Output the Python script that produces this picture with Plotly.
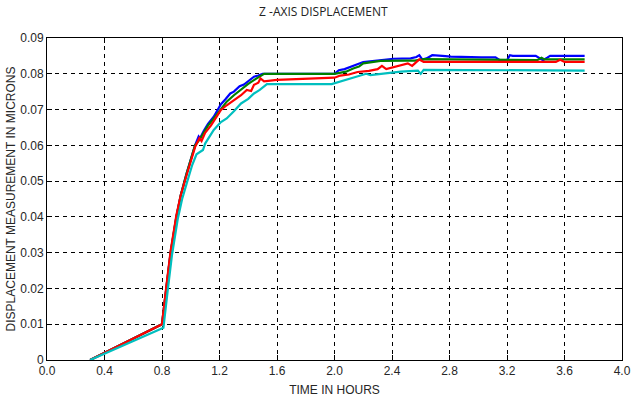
import plotly.graph_objects as go

# ---- data (time in hours, displacement in microns) ----
t_blue = [0.30, 0.80, 0.83, 0.86, 0.90, 0.93, 0.97, 1.00, 1.03, 1.055,
          1.065, 1.09, 1.12, 1.16, 1.18, 1.21, 1.24, 1.275, 1.30, 1.34,
          1.37, 1.40, 1.44, 1.47, 1.50, 2.00, 2.03, 2.07, 2.11, 2.15,
          2.20, 2.26, 2.34, 2.41, 2.53, 2.57, 2.59, 2.61, 2.64, 2.68,
          2.75, 2.81, 3.02, 3.12, 3.15, 3.20, 3.22, 3.24, 3.40, 3.43,
          3.45, 3.48, 3.50, 3.74]
y_blue = [0.0, 0.0100, 0.0200, 0.0300, 0.0400, 0.0460, 0.0520, 0.0560, 0.0600, 0.0625,
          0.0620, 0.0640, 0.0660, 0.0680, 0.0695, 0.0715, 0.0728, 0.0745, 0.0750, 0.0765,
          0.0770, 0.0780, 0.0792, 0.0795, 0.0800, 0.0800, 0.0810, 0.0813, 0.0820, 0.0825,
          0.0833, 0.0835, 0.0839, 0.0842, 0.0843, 0.0847, 0.0852, 0.0840, 0.0843, 0.0852,
          0.0850, 0.0848, 0.0846, 0.0846, 0.0838, 0.0838, 0.0852, 0.0850, 0.0850, 0.0842,
          0.0838, 0.0845, 0.0850, 0.0850]

t_green = [0.30, 0.80, 0.83, 0.86, 0.90, 0.93, 0.97, 1.00, 1.03, 1.06,
           1.09, 1.12, 1.16, 1.21, 1.25, 1.30, 1.35, 1.40, 1.45, 1.51,
           2.00, 2.04, 2.08, 2.13, 2.17, 2.20, 2.26, 2.32, 2.50, 2.56,
           2.62, 3.00, 3.12, 3.41, 3.44, 3.46, 3.74]
y_green = [0.0, 0.0100, 0.0200, 0.0300, 0.0400, 0.0460, 0.0520, 0.0560, 0.0600, 0.0615,
           0.0635, 0.0655, 0.0675, 0.0700, 0.0722, 0.0740, 0.0757, 0.0772, 0.0785, 0.0800,
           0.0800, 0.0803, 0.0806, 0.0815, 0.0820, 0.0829, 0.0832, 0.0836, 0.0837, 0.0837,
           0.0841, 0.0840, 0.0838, 0.0838, 0.0845, 0.0840, 0.0840]

t_red = [0.30, 0.80, 0.83, 0.86, 0.90, 0.93, 0.97, 1.00, 1.03, 1.06,
         1.075, 1.10, 1.14, 1.18, 1.21, 1.25, 1.30, 1.35, 1.39, 1.42,
         1.44, 1.47, 1.485, 1.51, 1.60, 1.75, 1.90, 2.00, 2.04, 2.10,
         2.16, 2.24, 2.30, 2.33, 2.36, 2.44, 2.51, 2.54, 2.59, 2.62,
         3.54, 3.57, 3.60, 3.74]
y_red = [0.0, 0.0100, 0.0205, 0.0305, 0.0405, 0.0460, 0.0515, 0.0555, 0.0595, 0.0620,
         0.0612, 0.0635, 0.0655, 0.0680, 0.0699, 0.0712, 0.0727, 0.0740, 0.0755, 0.0752,
         0.0769, 0.0775, 0.0787, 0.0779, 0.0783, 0.0785, 0.0787, 0.0789, 0.0795, 0.0798,
         0.0805, 0.0808, 0.0813, 0.0822, 0.0813, 0.0822, 0.0829, 0.0822, 0.0840, 0.0833,
         0.0833, 0.0839, 0.0833, 0.0833]

t_cyan = [0.30, 0.81, 0.84, 0.87, 0.91, 0.94, 0.98, 1.01, 1.04, 1.085,
          1.10, 1.16, 1.21, 1.25, 1.30, 1.35, 1.40, 1.44, 1.48, 1.53,
          1.98, 2.04, 2.11, 2.18, 2.22, 2.25, 2.32, 2.46, 2.58, 2.60,
          2.62, 3.74]
y_cyan = [0.0, 0.0090, 0.0195, 0.0295, 0.0395, 0.0450, 0.0505, 0.0545, 0.0575, 0.0587,
          0.0605, 0.0643, 0.0665, 0.0675, 0.0695, 0.0717, 0.0730, 0.0745, 0.0755, 0.0771,
          0.0771, 0.0778, 0.0787, 0.0795, 0.0800, 0.0796, 0.0800, 0.0806, 0.0809, 0.0800,
          0.0811, 0.0809]

x_ticks = [0.0, 0.4, 0.8, 1.2, 1.6, 2.0, 2.4, 2.8, 3.2, 3.6, 4.0]
x_tick_labels = ["0.0", "0.4", "0.8", "1.2", "1.6", "2.0", "2.4", "2.8", "3.2", "3.6", "4.0"]
y_ticks = [0, 0.01, 0.02, 0.03, 0.04, 0.05, 0.06, 0.07, 0.08, 0.09]
y_tick_labels = ["0", "0.01", "0.02", "0.03", "0.04", "0.05", "0.06", "0.07", "0.08", "0.09"]

series = [
    (t_blue, y_blue, "#0000FF"),
    (t_green, y_green, "#008000"),
    (t_red, y_red, "#FF0000"),
    (t_cyan, y_cyan, "#00BFBF"),
]

fig = go.Figure()
for t, y, c in series:
    fig.add_trace(go.Scatter(x=t, y=y, mode="lines",
                             line=dict(color=c, width=2.2), showlegend=False))

tick_font = dict(family="Liberation Sans, Arial, sans-serif", size=12, color="#262626")
axis_common = dict(
    showline=True, linecolor="black", linewidth=1, mirror="ticks",
    ticks="inside", ticklen=5, tickcolor="black",
    showgrid=True, gridcolor="black", griddash="4px,4px", gridwidth=1,
    zeroline=False, tickfont=tick_font,
)

fig.update_layout(
    width=634, height=398,
    margin=dict(l=47, r=12, t=38, b=38),
    paper_bgcolor="white", plot_bgcolor="white",
    title=dict(text="Z -AXIS DISPLACEMENT", x=0.51, xanchor="center",
               y=0.97, yanchor="middle",
               font=dict(family="Open Sans, sans-serif", size=12, color="#222222")),
    xaxis=dict(range=[0, 4], tickvals=x_ticks, ticktext=x_tick_labels,
               title=dict(text="TIME IN HOURS", standoff=8,
                          font=dict(family="Liberation Sans, Arial, sans-serif",
                                    size=12, color="#262626")),
               automargin=False, **axis_common),
    yaxis=dict(range=[0, 0.09], tickvals=y_ticks, ticktext=y_tick_labels,
               title=dict(text="DISPLACEMENT MEASUREMENT IN MICRONS", standoff=2,
                          font=dict(family="Liberation Sans, Arial, sans-serif",
                                    size=12, color="#262626")),
               automargin=False, **axis_common),
)

fig.write_html("out.html",
               config={"displayModeBar": False},
               post_script="document.body.style.margin='0';document.body.style.overflow='hidden';")
